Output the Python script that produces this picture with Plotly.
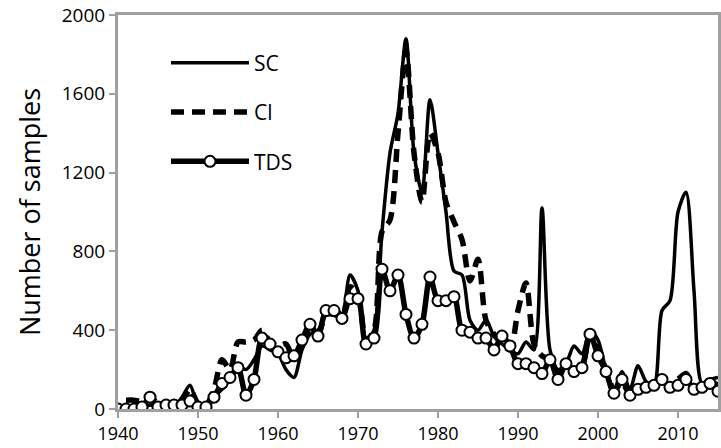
import plotly.graph_objects as go

years = list(range(1940, 2016))

sc = [0, 0, 0, 0, 20, 10, 0, 10, 60, 120,
      20, 10, 60, 100, 150, 220, 200, 250, 320, 300,
      280, 200, 160, 300, 380, 400, 480, 520, 480, 680,
      600, 350, 400, 900, 1300, 1500, 1880, 1300, 1100, 1570,
      1300, 1000, 700, 680, 450, 400, 450, 370, 330, 300,
      280, 340, 300, 1020, 300, 200, 230, 320, 280, 400,
      350, 200, 100, 190, 100, 220, 140, 120, 500, 550,
      1000, 1100, 600, 130, 150, 160]

cl = [None, 45, 45, 40, 70, 20, 10, 20, 40, 100,
      30, 20, 100, 250, 200, 340, 340, 350, 400, 340,
      320, 330, 250, 350, 400, 380, 480, 480, 460, 620,
      580, 350, 400, 900, 960, 1400, 1820, 1300, 1050, 1400,
      1300, 1050, 950, 860, 650, 760, 450, 380, 330, 300,
      500, 640, 330, 270, 250, 170, 220, 200, 220, 380,
      300, 200, 100, 130, 80, 110, 120, 130, 140, 120,
      150, 180, 110, 120, 140, 120]

tds = [0, 0, 0, 10, 60, 10, 20, 20, 20, 40,
       10, 10, 60, 130, 160, 210, 70, 150, 360, 330,
       290, 260, 270, 350, 430, 370, 500, 500, 460, 560,
       560, 330, 360, 710, 600, 680, 480, 360, 430, 670,
       550, 550, 570, 400, 390, 360, 360, 300, 370, 320,
       230, 230, 210, 180, 250, 150, 230, 190, 210, 380,
       270, 190, 80, 150, 70, 100, 110, 120, 150, 110,
       120, 150, 100, 110, 130, 90]

x_ticks = [1940, 1950, 1960, 1970, 1980, 1990, 2000, 2010]
y_ticks = [0, 400, 800, 1200, 1600, 2000]

fig = go.Figure()
fig.add_trace(go.Scatter(x=years, y=sc, name="SC", mode="lines",
                         line=dict(color="black", width=3.5, shape="spline", smoothing=0.8),
                         legendgroup="a"))
fig.add_trace(go.Scatter(x=years, y=cl, name="Cl", mode="lines",
                         line=dict(color="black", width=5.5, dash="13px,8px", shape="spline", smoothing=0.8),
                         legendgroup="b"))
fig.add_trace(go.Scatter(x=years, y=tds, name="TDS", mode="lines+markers",
                         line=dict(color="black", width=5.5, shape="spline", smoothing=0.8),
                         marker=dict(symbol="circle", size=11, color="white",
                                     line=dict(color="black", width=2)),
                         legendgroup="c"))

font = "Open Sans, Lato, DejaVu Sans"
axis_gray = "#a0a0a0"
fig.update_layout(
    width=721, height=448,
    margin=dict(l=118, r=3, t=15, b=39),
    paper_bgcolor="white", plot_bgcolor="white",
    font=dict(family=font, size=19, color="black"),
    showlegend=True,
    legend=dict(x=0.08, y=0.93, xanchor="left", yanchor="top",
                bgcolor="rgba(0,0,0,0)", font=dict(size=21),
                itemwidth=78, tracegroupgap=19),
    xaxis=dict(range=[1940, 2015], tickvals=x_ticks, showgrid=False, zeroline=False,
               showline=True, linecolor=axis_gray, linewidth=3, mirror=True,
               ticks="outside", ticklen=6, tickcolor=axis_gray, tickwidth=2,
               tickfont=dict(size=18), automargin=False),
    yaxis=dict(range=[0, 2000], tickvals=y_ticks, showgrid=False, zeroline=False,
               showline=True, linecolor=axis_gray, linewidth=3, mirror=True,
               ticks="outside", ticklen=6, tickcolor=axis_gray, tickwidth=2,
               automargin=False,
               title=dict(text="Number of samples", font=dict(size=27), standoff=14)),
)

fig.write_html("out.html", config={"displayModeBar": False},
               post_script="document.body.style.margin='0';")
